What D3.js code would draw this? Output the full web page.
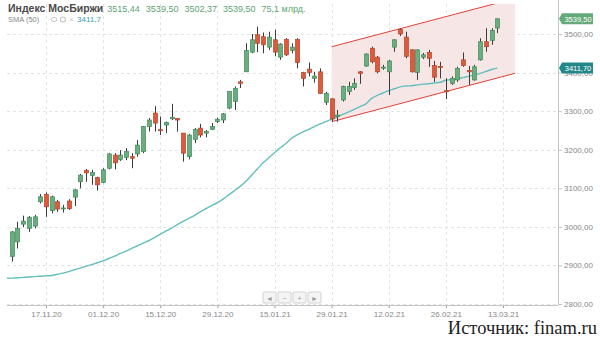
<!DOCTYPE html>
<html>
<head>
<meta charset="utf-8">
<script src="https://cdn.jsdelivr.net/npm/d3@7/dist/d3.min.js"></script>
<style>
  body { margin: 0; background: #fff; }
  svg { display: block; font-family: "Liberation Sans", Arial, sans-serif; }
</style>
</head>
<body>
<svg id="chart" width="600" height="338"></svg>
<script>
// daily candles, index 0..85
var opens  = [2923,2961,3007,2996,3002,3065,3084,3042,3065,3047,3067,3077,3117,3146,3133,3128,3115,3152,3186,3175,
              3180,3182,3189,3195,3260,3295,3252,3264,3280,3281,3243,3182,3227,3256,3243,3253,3273,3277,3308,3325,
              3376,3402,3453,3498,3493,3466,3485,3440,3486,3457,3486,3400,3409,3385,3402,3323,3332,3286,3329,3351,
              3361,3402,3417,3463,3440,3412,3402,3466,3512,3492,3459,3400,3440,3452,3418,3416,3353,3372,3381,3433,
              3405,3381,3433,3480,3483,3515.44];
var highs  = [2989,3013,3029,3028,3031,3085,3089,3081,3070,3057,3072,3098,3137,3150,3148,3130,3152,3191,3191,3199,
              3204,3191,3225,3261,3282,3313,3286,3273,3319,3282,3243,3241,3256,3267,3251,3269,3283,3295,3351,3364,
              3381,3476,3500,3519,3504,3506,3511,3476,3489,3476,3489,3402,3426,3402,3411,3350,3333,3303,3366,3376,
              3385,3404,3450,3467,3443,3420,3433,3486,3515,3506,3460,3460,3451,3459,3430,3428,3385,3390,3415,3452,
              3417,3420,3489,3515,3515,3539.50];
var lows   = [2910,2944,2999,2987,2996,3061,3026,3035,3039,3037,3044,3054,3100,3117,3109,3094,3113,3149,3149,3171,
              3173,3152,3182,3191,3247,3247,3238,3243,3277,3247,3169,3175,3217,3232,3232,3251,3269,3269,3305,3303,
              3360,3402,3450,3453,3450,3459,3442,3433,3443,3450,3411,3364,3390,3374,3345,3316,3273,3273,3325,3342,
              3355,3371,3415,3424,3398,3407,3342,3454,3495,3437,3400,3381,3435,3415,3376,3385,3331,3368,3376,3415,
              3368,3379,3431,3454,3472,3502.37];
var closes = [2987,2996,3015,3025,3026,3078,3052,3078,3046,3049,3047,3096,3134,3140,3141,3109,3148,3189,3166,3186,
              3195,3178,3212,3260,3277,3269,3250,3271,3284,3277,3191,3238,3253,3238,3247,3260,3279,3293,3351,3359,
              3372,3457,3485,3476,3472,3492,3453,3474,3446,3466,3426,3385,3400,3391,3346,3346,3280,3290,3364,3364,
              3372,3398,3448,3428,3402,3414,3430,3485,3500,3442,3402,3459,3446,3437,3388,3414,3350,3385,3411,3418,
              3402,3415,3480,3467,3509,3539.50];
// SMA(50), one value per candle
var sma50  = [2867,2868,2869,2870,2871,2872,2873,2874,2877,2880,2884,2889,2893,2898,2902,2907,2912,2918,2924,2931,
              2937,2944,2951,2958,2964,2972,2981,2989,2997,3006,3014,3022,3030,3039,3047,3055,3063,3072,3083,3094,
              3105,3118,3134,3150,3166,3179,3192,3205,3216,3230,3239,3246,3253,3260,3267,3273,3279,3285,3292,3298,
              3305,3312,3319,3333,3341,3347,3353,3358,3363,3365,3366,3368,3370,3371,3373,3375,3380,3382,3384,3387,
              3390,3394,3398,3403,3408,3411.7];

var xTickIdx    = [6, 16, 26, 36, 46, 56, 66, 76, 86];
var xTickLabels = ["17.11.20","01.12.20","15.12.20","29.12.20","15.01.21","29.01.21","12.02.21","26.02.21","13.03.21"];
var yTicks      = [2800, 2900, 3000, 3100, 3200, 3300, 3400, 3500];

// trend channel drawn on the chart: [index, lower value], upper = lower + width
var channelStart = [56, 3272.7];
var channelEnd   = [88.1, 3398];
var channelWidth = 194.3;

var legendValues = ["3515,44", "3539,50", "3502,37", "3539,50", "75,1 млрд."];

var green = "#6aad7e", greenLine = "#3f8a57";
var red = "#dd5a3c", redLine = "#b5432a";
var teal = "#63bfbd";

var svg = d3.select("#chart");
//note: "top" is taken by window.top, so plot edges get their own names
var plotLeft = 7, plotRight = 558, plotTop = 4, plotBottom = 305;

var x = d3.scaleLinear().domain([-0.82, 95.62]).range([plotLeft, plotRight]);
var y = d3.scaleLinear().domain([2800, 3500]).range([304, 34]);

var comma = function(v) { return d3.format(".2f")(v).replace(".", ","); };

svg.append("defs").append("clipPath").attr("id", "plotclip")
    .append("rect").attr("x", plotLeft).attr("y", plotTop)
    .attr("width", plotRight - plotLeft).attr("height", plotBottom - plotTop);

//grid
var grid = svg.append("g");
grid.selectAll(".hg").data(yTicks).enter().append("line")
    .attr("x1", plotLeft).attr("x2", plotRight)
    .attr("y1", function(d) { return Math.round(y(d)) + 0.5; })
    .attr("y2", function(d) { return Math.round(y(d)) + 0.5; })
    .attr("stroke", "#e4e4e4").attr("stroke-dasharray", "3,3");
grid.selectAll(".vg").data(xTickIdx).enter().append("line")
    .attr("y1", plotTop).attr("y2", plotBottom)
    .attr("x1", function(d) { return Math.round(x(d)) + 0.5; })
    .attr("x2", function(d) { return Math.round(x(d)) + 0.5; })
    .attr("stroke", "#e4e4e4").attr("stroke-dasharray", "3,3");

var plot = svg.append("g").attr("clip-path", "url(#plotclip)");

//channel
var chPts = [
    [x(channelStart[0]), y(channelStart[1] + channelWidth)],
    [x(channelEnd[0]), y(channelEnd[1] + channelWidth)],
    [x(channelEnd[0]), y(channelEnd[1])],
    [x(channelStart[0]), y(channelStart[1])]
];
plot.append("polygon")
    .attr("points", chPts.map(function(p) { return p.join(","); }).join(" "))
    .attr("fill", "#f6e3e3").attr("fill-opacity", 0.9);
plot.append("line")
    .attr("x1", chPts[0][0]).attr("y1", chPts[0][1]).attr("x2", chPts[1][0]).attr("y2", chPts[1][1])
    .attr("stroke", "#e0403a").attr("stroke-width", 1);
plot.append("line")
    .attr("x1", chPts[3][0]).attr("y1", chPts[3][1]).attr("x2", chPts[2][0]).attr("y2", chPts[2][1])
    .attr("stroke", "#e0403a").attr("stroke-width", 1);

//sma
var smaLine = d3.line()
    .x(function(d, i) { return x(i); })
    .y(function(d) { return y(d); })
    .curve(d3.curveMonotoneX);
plot.append("path").datum(sma50)
    .attr("d", smaLine)
    .attr("fill", "none").attr("stroke", teal).attr("stroke-width", 1.4);
// extend to left edge like the original
plot.append("line")
    .attr("x1", plotLeft).attr("x2", x(0))
    .attr("y1", y(sma50[0])).attr("y2", y(sma50[0]))
    .attr("stroke", teal).attr("stroke-width", 1.4);

//candles
var candles = plot.selectAll(".candle").data(d3.range(opens.length)).enter().append("g");
candles.append("line")
    .attr("x1", function(i) { return Math.round(x(i)) + 0.5; })
    .attr("x2", function(i) { return Math.round(x(i)) + 0.5; })
    .attr("y1", function(i) { return y(highs[i]); })
    .attr("y2", function(i) { return y(lows[i]); })
    .attr("stroke", "#3b3b3b").attr("stroke-width", 1);
candles.append("rect")
    .attr("x", function(i) { return Math.round(x(i)) - 1.5; })
    .attr("width", 4)
    .attr("y", function(i) { return y(Math.max(opens[i], closes[i])); })
    .attr("height", function(i) { return Math.max(1, Math.abs(y(opens[i]) - y(closes[i]))); })
    .attr("fill", function(i) { return closes[i] >= opens[i] ? green : red; })
    .attr("stroke", function(i) { return closes[i] >= opens[i] ? greenLine : redLine; })
    .attr("stroke-width", 0.7);

//axes
var yAxis = d3.axisRight(y).tickValues(yTicks).tickSize(4).tickPadding(2).tickFormat(comma);
var gy = svg.append("g").attr("transform", "translate(" + plotRight + ",0)").call(yAxis);
gy.select(".domain").remove();
gy.append("line").attr("x1", 0.5).attr("x2", 0.5).attr("y1", 0).attr("y2", plotBottom).attr("stroke", "#c4c4c4");
gy.selectAll(".tick line").attr("stroke", "#c4c4c4");
gy.selectAll(".tick text").attr("fill", "#888").attr("font-size", 8);

var xAxis = d3.axisBottom(x).tickValues(xTickIdx).tickSize(3).tickPadding(3)
    .tickFormat(function(d, i) { return xTickLabels[i]; });
var gx = svg.append("g").attr("transform", "translate(0," + plotBottom + ")").call(xAxis);
gx.select(".domain").remove();
gx.append("line").attr("x1", plotLeft).attr("x2", plotRight).attr("y1", 0.5).attr("y2", 0.5).attr("stroke", "#c4c4c4");
gx.selectAll(".tick line").attr("stroke", "#999");
gx.selectAll(".tick text").attr("fill", "#888").attr("font-size", 8);

//price tags on the right (they sit over the axis labels, as in the original)
function priceTag(v, fill, label)
{
    var cy = y(v);
    var g = svg.append("g");
    g.append("path")
        .attr("d", "M" + (plotRight + 1) + "," + cy + " L" + (plotRight + 4) + "," + (cy - 5.5) + " L" + (plotRight + 35) + "," + (cy - 5.5)
            + " L" + (plotRight + 35) + "," + (cy + 5.5) + " L" + (plotRight + 4) + "," + (cy + 5.5) + " Z")
        .attr("fill", fill);
    g.append("text").attr("x", plotRight + 20).attr("y", cy + 3)
        .attr("text-anchor", "middle").attr("fill", "#fff").attr("font-size", 7.5).text(label);
}
priceTag(closes[closes.length - 1], "#64a97a", comma(closes[closes.length - 1]));
priceTag(sma50[sma50.length - 1], "#23878a", comma(sma50[sma50.length - 1]));

//legend
var legend = svg.append("g");
var title = legend.append("text").attr("x", 8).attr("y", 12)
    .attr("font-size", 10.5).attr("font-weight", "bold").attr("fill", "#4a4a4a").text("Индекс МосБиржи");
var lx = 8 + title.node().getComputedTextLength() + 4;
legendValues.forEach(function(s) {
    var t = legend.append("text").attr("x", lx).attr("y", 12).attr("font-size", 9).attr("fill", "#5ea473").text(s);
    lx += t.node().getComputedTextLength() + 6;
});
legend.append("text").attr("x", 8).attr("y", 22).attr("font-size", 7.5).attr("fill", "#888").text("SMA (50)");
// small eye / gear / close icons
legend.append("ellipse").attr("cx", 54).attr("cy", 19.5).attr("rx", 3).attr("ry", 2).attr("fill", "none").attr("stroke", "#c8c8c8");
legend.append("circle").attr("cx", 63).attr("cy", 19.5).attr("r", 2.5).attr("fill", "none").attr("stroke", "#c8c8c8").attr("stroke-width", 1.2);
legend.append("text").attr("x", 69).attr("y", 22).attr("font-size", 8).attr("fill", "#c8c8c8").text("×");
legend.append("text").attr("x", 77).attr("y", 22).attr("font-size", 8).attr("fill", "#2f9fb3").text("3411,7");

//navigation buttons
var navSymbols = ["◄", "−", "+", "►"];
var nav = svg.append("g").selectAll("g").data(navSymbols).enter().append("g")
    .attr("transform", function(d, i) { return "translate(" + (263 + i * 15) + ",292)"; });
nav.append("rect").attr("width", 13).attr("height", 11).attr("rx", 1)
    .attr("fill", "#f4f4f4").attr("stroke", "#d2d2d2");
nav.append("text").attr("x", 6.5).attr("y", 8.5).attr("text-anchor", "middle")
    .attr("font-size", 7).attr("fill", "#999").text(function(d) { return d; });

//source
svg.append("text").attr("x", 597).attr("y", 334).attr("text-anchor", "end")
    .attr("font-family", "'Liberation Serif', 'Times New Roman', serif")
    .attr("font-size", 18.5).attr("fill", "#222").text("Источник: finam.ru");
</script>
</body>
</html>
